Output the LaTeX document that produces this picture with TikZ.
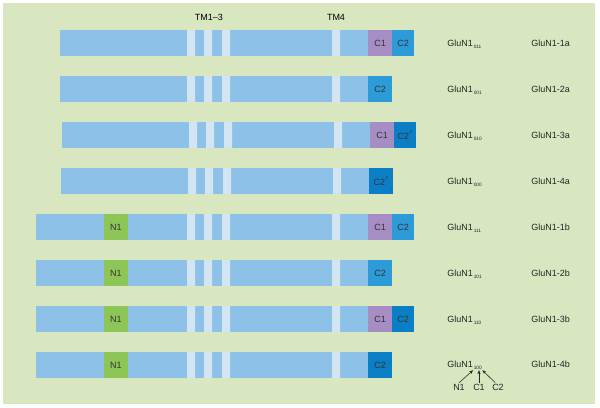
\documentclass[tikz,border=0pt]{standalone}
\usepackage{fontspec}
\setmainfont{Liberation Sans}
\usetikzlibrary{positioning, arrows.meta}
\definecolor{bgcol}{HTML}{D8E7C0}
\definecolor{barcol}{HTML}{8DC1E7}
\definecolor{tmcol}{HTML}{D3E5F3}
\definecolor{c1col}{HTML}{A68DC3}
\definecolor{c2col}{HTML}{2D9BD7}
\definecolor{c2pcol}{HTML}{0B7FC5}
\definecolor{n1col}{HTML}{8EC557}
\newcommand{\cprime}{\raisebox{0.9ex}{\fontsize{5}{5}\selectfont$\prime$}}

\begin{document}
\begin{tikzpicture}[
  x=0.025cm, y=-0.025cm,
  font=\fontsize{6.4}{7.5}\selectfont,
  >={Stealth[length=1mm, width=0.8mm]},
  bar/.style={fill=barcol},
  tm/.style={fill=tmcol},
  dom/.style={inner sep=0pt, outer sep=0pt, minimum height=0.65cm, text=black!80},
  c1dom/.style={dom, fill=c1col, minimum width=0.6cm},
  c2dom/.style={dom, fill=c2col, minimum width=0.55cm},
  c2pdom/.style={dom, fill=c2pcol, minimum width=0.55cm},
  n1dom/.style={dom, fill=n1col, minimum width=0.6cm},
  lab/.style={anchor=west, inner sep=0pt, text=black!85},
  sublab/.style={anchor=base west, inner sep=0.3pt, text=black!85,
                 font=\fontsize{3.4}{4}\selectfont},
  arr/.style={->, line width=0.4pt, draw=black!85},
]
\useasboundingbox (0,0) rectangle (600,408);
\fill[bgcol] (3,3) rectangle (595,404);
% ---- header ----
\node (tm13) at (209,17.5) {TM1--3};
\node (tm4)  at (336,17.5) {TM4};
% ---- backbones (TM1-3 and TM4 bands) ----
\fill[bar] (60,30) rectangle (368,56);
\fill[tm] (187,30) rectangle ++(8,26) (204,30) rectangle ++(8,26) (222,30) rectangle ++(8,26) (332,30) rectangle ++(8,26);
\fill[bar] (60,76) rectangle (368,102);
\fill[tm] (187,76) rectangle ++(8,26) (204,76) rectangle ++(8,26) (222,76) rectangle ++(8,26) (332,76) rectangle ++(8,26);
\fill[bar] (62,122) rectangle (370,148);
\fill[tm] (189,122) rectangle ++(8,26) (206,122) rectangle ++(8,26) (224,122) rectangle ++(8,26) (334,122) rectangle ++(8,26);
\fill[bar] (61,168) rectangle (369,194);
\fill[tm] (188,168) rectangle ++(8,26) (205,168) rectangle ++(8,26) (223,168) rectangle ++(8,26) (333,168) rectangle ++(8,26);
\fill[bar] (36,214) rectangle (368,240);
\fill[tm] (187,214) rectangle ++(8,26) (204,214) rectangle ++(8,26) (222,214) rectangle ++(8,26) (332,214) rectangle ++(8,26);
\fill[bar] (36,260) rectangle (368,286);
\fill[tm] (187,260) rectangle ++(8,26) (204,260) rectangle ++(8,26) (222,260) rectangle ++(8,26) (332,260) rectangle ++(8,26);
\fill[bar] (36,306) rectangle (368,332);
\fill[tm] (187,306) rectangle ++(8,26) (204,306) rectangle ++(8,26) (222,306) rectangle ++(8,26) (332,306) rectangle ++(8,26);
\fill[bar] (36,352) rectangle (368,378);
\fill[tm] (187,352) rectangle ++(8,26) (204,352) rectangle ++(8,26) (222,352) rectangle ++(8,26) (332,352) rectangle ++(8,26);
% ---- N1 cassette (b forms) ----
\node[n1dom] (n1-1b) at (116,227) {N1};
\node[n1dom] (n1-2b) at (116,273) {N1};
\node[n1dom] (n1-3b) at (116,319) {N1};
\node[n1dom] (n1-4b) at (116,365) {N1};
% ---- C-terminal cassettes ----
\node[c1dom, anchor=west] (c1-1a) at (368,43) {C1};
\node[c2dom, anchor=west] (c2-1a) at (c1-1a.east) {C2};
\node[c2dom, anchor=west, minimum width=0.6cm] (c2-2a) at (368,89) {C2};
\node[c1dom, anchor=west] (c1-3a) at (370,135) {C1};
\node[c2pdom, anchor=west] (c2-3a) at (c1-3a.east) {C2\cprime};
\node[c2pdom, anchor=west, minimum width=0.6cm] (c2-4a) at (369,181) {C2\cprime};
\node[c1dom, anchor=west] (c1-1b) at (368,227) {C1};
\node[c2dom, anchor=west] (c2-1b) at (c1-1b.east) {C2};
\node[c2dom, anchor=west, minimum width=0.6cm] (c2-2b) at (368,273) {C2};
\node[c1dom, anchor=west] (c1-3b) at (368,319) {C1};
\node[c2pdom, anchor=west] (c2-3b) at (c1-3b.east) {C2};
\node[c2pdom, anchor=west, minimum width=0.6cm] (c2-4b) at (368,365) {C2};
% ---- GluN1 codes and isoform names ----
\node[lab] (g-1a) at (447,43) {GluN1};
\node[sublab] (s-1a) at ([yshift=-1.6pt]g-1a.base east) {011};
\node[lab] (iso-1a) at (531,43) {GluN1-1a};
\node[lab] (g-2a) at (447,89) {GluN1};
\node[sublab] (s-2a) at ([yshift=-1.6pt]g-2a.base east) {001};
\node[lab] (iso-2a) at (531,89) {GluN1-2a};
\node[lab] (g-3a) at (447,135) {GluN1};
\node[sublab] (s-3a) at ([yshift=-1.6pt]g-3a.base east) {010};
\node[lab] (iso-3a) at (531,135) {GluN1-3a};
\node[lab] (g-4a) at (447,181) {GluN1};
\node[sublab] (s-4a) at ([yshift=-1.6pt]g-4a.base east) {000};
\node[lab] (iso-4a) at (531,181) {GluN1-4a};
\node[lab] (g-1b) at (447,227) {GluN1};
\node[sublab] (s-1b) at ([yshift=-1.6pt]g-1b.base east) {111};
\node[lab] (iso-1b) at (531,227) {GluN1-1b};
\node[lab] (g-2b) at (447,273) {GluN1};
\node[sublab] (s-2b) at ([yshift=-1.6pt]g-2b.base east) {101};
\node[lab] (iso-2b) at (531,273) {GluN1-2b};
\node[lab] (g-3b) at (447,319) {GluN1};
\node[sublab] (s-3b) at ([yshift=-1.6pt]g-3b.base east) {110};
\node[lab] (iso-3b) at (531,319) {GluN1-3b};
\node[lab] (g-4b) at (447,364) {GluN1};
\node[sublab] (s-4b) at ([yshift=-1.6pt]g-4b.base east) {100};
\node[lab] (iso-4b) at (531,364) {GluN1-4b};
% ---- key to the subscript ----
\node[inner sep=0.6pt, text=black!85] (k-n1) at (459,387) {N1};
\node[inner sep=0.6pt, text=black!85] (k-c1) at (479,387) {C1};
\node[inner sep=0.6pt, text=black!85] (k-c2) at (498,387) {C2};
\draw[arr] (k-n1.north) -- (s-4b.south west);
\draw[arr] (k-c1.north) -- (k-c1.north |- s-4b.south);
\draw[arr] ([xshift=-2pt]k-c2.north) -- (s-4b.south east);
\end{tikzpicture}
\end{document}
